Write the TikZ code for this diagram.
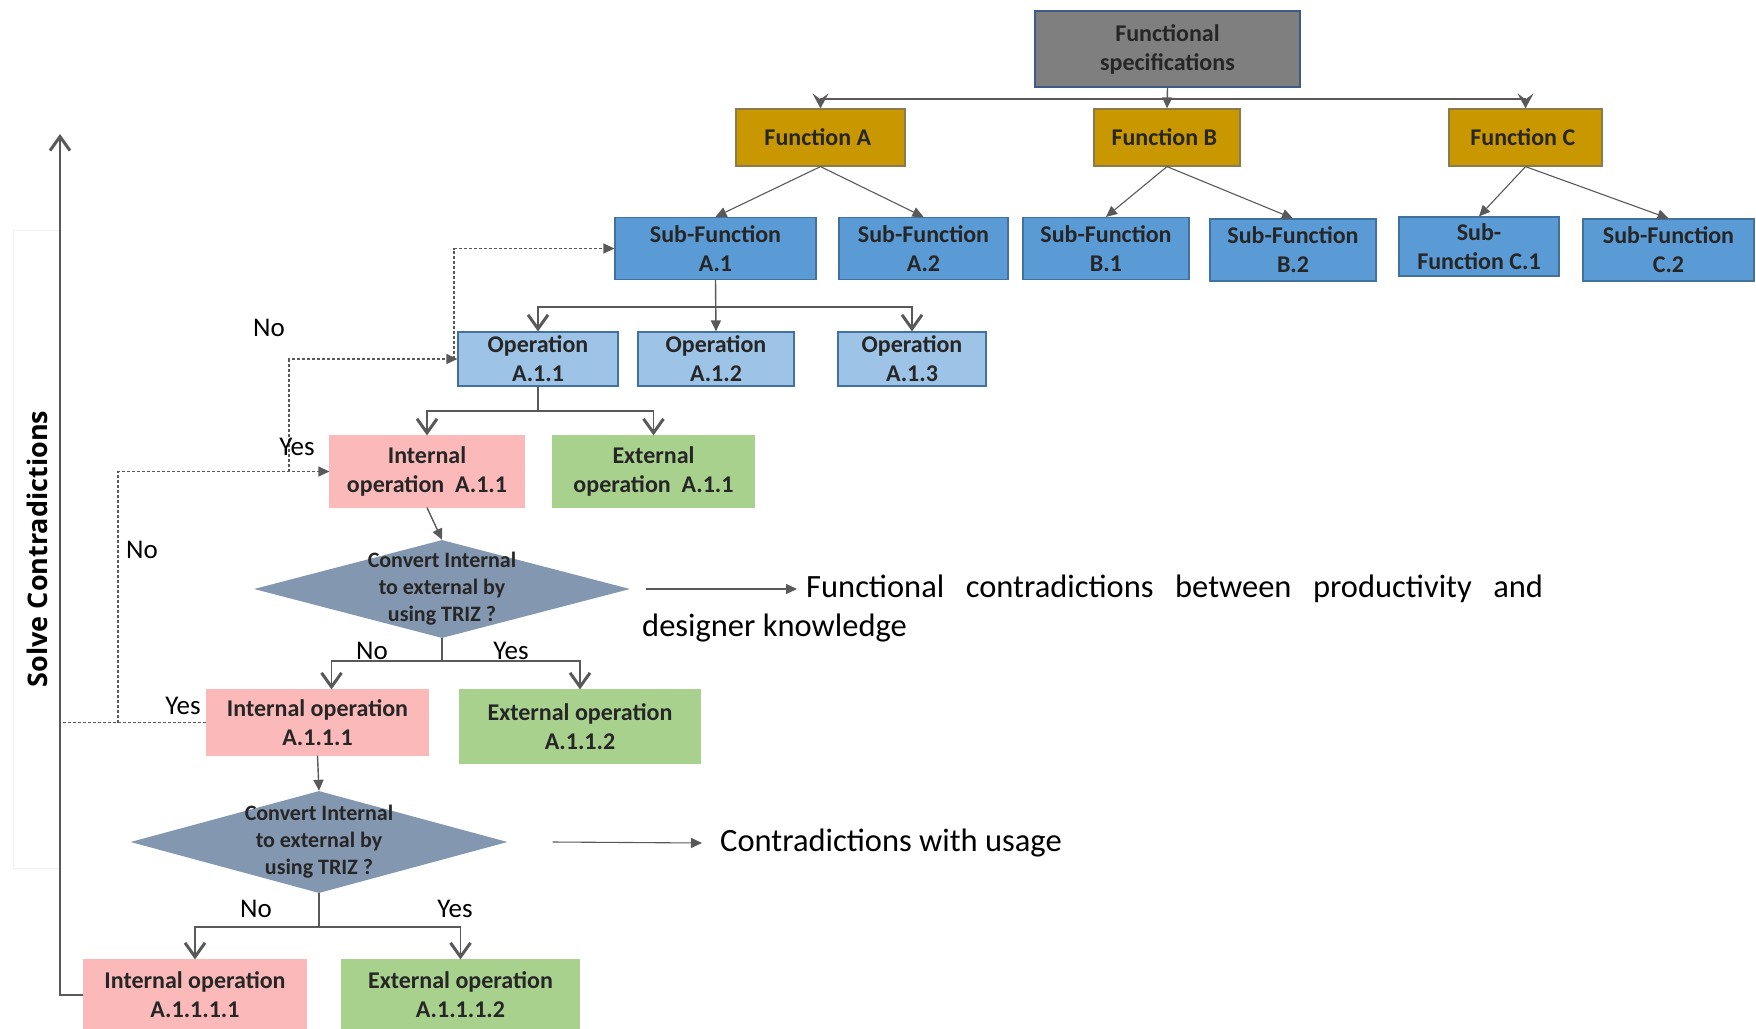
\documentclass[tikz,border=0pt]{standalone}
\usepackage{fontspec}
\setmainfont{Carlito}
\newfontfamily\solvefont{Open Sans}
\usepackage{tikz}
\usetikzlibrary{arrows.meta, shapes.geometric}
\definecolor{specgray}{HTML}{7F7F7F}
\definecolor{specline}{HTML}{3E5A85}
\definecolor{gold}{HTML}{C99700}
\definecolor{goldline}{HTML}{8A7B4F}
\definecolor{subblue}{HTML}{5B9BD5}
\definecolor{opblue}{HTML}{9DC3E6}
\definecolor{blueline}{HTML}{41719C}
\definecolor{intpink}{HTML}{FBB9B9}
\definecolor{extgreen}{HTML}{A9D18E}
\definecolor{decgray}{HTML}{8497B0}
\definecolor{linegray}{HTML}{595959}

\begin{document}
\begin{tikzpicture}[x=1pt, y=-1pt,
    box/.style={rectangle, inner sep=0, align=center, line width=1.2,
      text=black!85, font=\fontsize{24}{29}\selectfont\bfseries},
    fnbox/.style={box, draw=goldline, fill=gold, minimum height=57pt},
    subbox/.style={box, draw=blueline, fill=subblue, minimum height=62pt},
    opbox/.style={box, draw=blueline, fill=opblue, minimum height=54pt},
    intbox/.style={box, draw=intpink, fill=intpink},
    extbox/.style={box, draw=extgreen, fill=extgreen},
    decision/.style={diamond, fill=decgray, inner sep=0},
    dectext/.style={align=center, inner sep=0, text=black!85,
      font=\fontsize{22}{27}\selectfont\bfseries},
    lbl/.style={inner sep=0, font=\fontsize{27}{32}\selectfont},
    sidetext/.style={anchor=west, inner ysep=0, font=\fontsize{32.5}{39}\selectfont},
    conn/.style={draw=linegray, line width=1.4},
    dashline/.style={draw=linegray, line width=1.2, densely dashed},
    vtip/.style={-{Straight Barb[length=14pt, width=20pt, line width=3pt]}},
    ttip/.style={-{Triangle[length=11pt, width=10pt]}},
    btip/.style={-{Stealth[length=15pt, width=16pt, inset=6pt]}}
  ]

  \path[use as bounding box] (0, 0) rectangle (1756, 1028);
  \draw[black!6, line width=1] (13, 230) rectangle (60, 868);

  \node[box, fill=specgray, draw=specline, minimum width=265pt, minimum height=76pt] (spec) at (1167.5, 49) { Functional\\specifications };

  \node[fnbox, minimum width=169pt] (fa) at (820.5, 137.5) { Function A };
  \node[fnbox, minimum width=146pt] (fb) at (1167, 137.5) { Function B };
  \node[fnbox, minimum width=153pt] (fc) at (1525.5, 137.5) { Function C };

  \node[subbox, minimum width=201pt] (sa1) at (715.5, 248.5) { Sub-Function\\A.1 };
  \node[subbox, minimum width=169pt] (sa2) at (923.5, 248.5) { Sub-Function\\A.2 };
  \node[subbox, minimum width=166pt] (sb1) at (1106, 248.5) { Sub-Function\\B.1 };
  \node[subbox, minimum width=166pt] (sb2) at (1293, 250) { Sub-Function\\B.2 };
  \node[subbox, minimum width=160pt, minimum height=59pt] (sc1) at (1479, 246.5) { Sub-\\Function C.1 };
  \node[subbox, minimum width=171pt] (sc2) at (1668.5, 250) { Sub-Function\\C.2 };

  \node[opbox, minimum width=160pt] (oa1) at (538, 359) { Operation\\A.1.1 };
  \node[opbox, minimum width=156pt] (oa2) at (716, 359) { Operation\\A.1.2 };
  \node[opbox, minimum width=148pt] (oa3) at (912, 359) { Operation\\A.1.3 };

  \node[intbox, minimum width=194pt, minimum height=71pt] (ia) at (427, 471.5) { Internal\\operation\ \ A.1.1 };
  \node[extbox, minimum width=201pt, minimum height=71pt] (ea) at (653.5, 471.5) { External\\operation\ \ A.1.1 };

  \node[decision, minimum width=376pt, minimum height=98pt] (d1) at (442, 589) {};
  \node[dectext] (d1txt) at (d1.center) { Convert Internal\\to external by\\using TRIZ ? };

  \node[intbox, minimum width=221pt, minimum height=65pt] (ib) at (317.5, 722.5) { Internal operation\\A.1.1.1 };
  \node[extbox, minimum width=240pt, minimum height=73pt] (eb) at (580, 726.5) { External operation\\A.1.1.2 };

  \node[decision, minimum width=377pt, minimum height=102pt] (d2) at (319, 842) {};
  \node[dectext] (d2txt) at (d2.center) { Convert Internal\\to external by\\using TRIZ ? };

  \node[intbox, minimum width=222pt, minimum height=70pt] (ic) at (195, 995) { Internal operation\\A.1.1.1.1 };
  \node[extbox, minimum width=237pt, minimum height=70pt] (ec) at (460.5, 995) { External operation\\A.1.1.1.2 };

  \coordinate (fbus) at (1167, 99);
  \draw[conn, ttip] (spec.south) -- (fb.north);
  \draw[conn, btip] (fbus) -| (fa.north);
  \draw[conn, btip] (fbus) -| (fc.north);

  \foreach \f/\s in {fa/sa1, fa/sa2, fb/sb1, fb/sb2, fc/sc1, fc/sc2} {
    \draw[conn, line width=1.1, ttip] (\f.south) -- (\s.north);
  }

  \coordinate (opbus) at (715.5, 307);
  \draw[conn, ttip] (sa1.south) -- (oa2.north);
  \draw[conn, vtip] (opbus) -| (oa1.north);
  \draw[conn, vtip] (opbus) -| (oa3.north);

  \coordinate (iabus) at (538, 411);
  \draw[conn] (oa1.south) -- (iabus);
  \draw[conn, vtip] (iabus) -| (ia.north);
  \draw[conn, vtip] (iabus) -| (ea.north);

  \draw[conn, ttip] (ia.south) -- (d1.north);
  \coordinate (d1bus) at (442, 661);
  \draw[conn] (d1.south) -- (d1bus);
  \draw[conn, vtip] (d1bus) -| ([xshift=14pt]ib.north);
  \draw[conn, vtip] (d1bus) -| (eb.north);

  \draw[conn, ttip] (ib.south) -- (d2.north);
  \coordinate (d2bus) at (319, 927);
  \draw[conn] (d2.south) -- (d2bus);
  \draw[conn, vtip] (d2bus) -| (ic.north);
  \draw[conn, vtip] (d2bus) -| (ec.north);

  \coordinate (looptop) at (60, 134);
  \draw[conn, vtip] (ic.west) -| (looptop);

  \coordinate (dj1) at (118, 722.5);
  \coordinate (dj2) at (289, 471.5);
  \coordinate (dj3) at (454, 359);
  \draw[dashline] (ib.west) -- (ib.west -| looptop);
  \draw[dashline, ttip] (dj1) |- (ia.west);
  \draw[dashline, ttip] (dj2) |- (oa1.west);
  \draw[dashline, ttip] (dj3) |- (sa1.west);

  \node[lbl] (no1) at (269, 328) { No };
  \node[lbl] (yes1) at (297, 447) { Yes };
  \node[lbl] (no2) at (142, 550) { No };
  \node[lbl] (yes2) at (183, 706) { Yes };
  \node[lbl] (no3) at (372, 651) { No };
  \node[lbl] (yes3) at (511, 651) { Yes };
  \node[lbl] (no4) at (256, 909) { No };
  \node[lbl] (yes4) at (455, 909) { Yes };

  \node[sidetext, inner xsep=9pt] (fctxt) at (797, 589) {\hbox to 737pt{Functional\hfill contradictions\hfill between\hfill productivity\hfill and}};
  \node[sidetext, inner xsep=0] (dktxt) at (642, 628) { designer knowledge };
  \draw[conn, line width=1.1, ttip] ([xshift=16pt]d1.east) -- (fctxt.west);

  \node[sidetext, inner xsep=18pt] (ustxt) at (702, 843) { Contradictions with usage };
  \draw[conn, line width=1.1, ttip] ([xshift=45pt]d2.east) -- (ustxt.west);

  \node[rotate=90, inner sep=0, font=\solvefont\bfseries\fontsize{27}{32}\selectfont] (solve) at (37, 549) { Solve Contradictions };

\end{tikzpicture}
\end{document}
